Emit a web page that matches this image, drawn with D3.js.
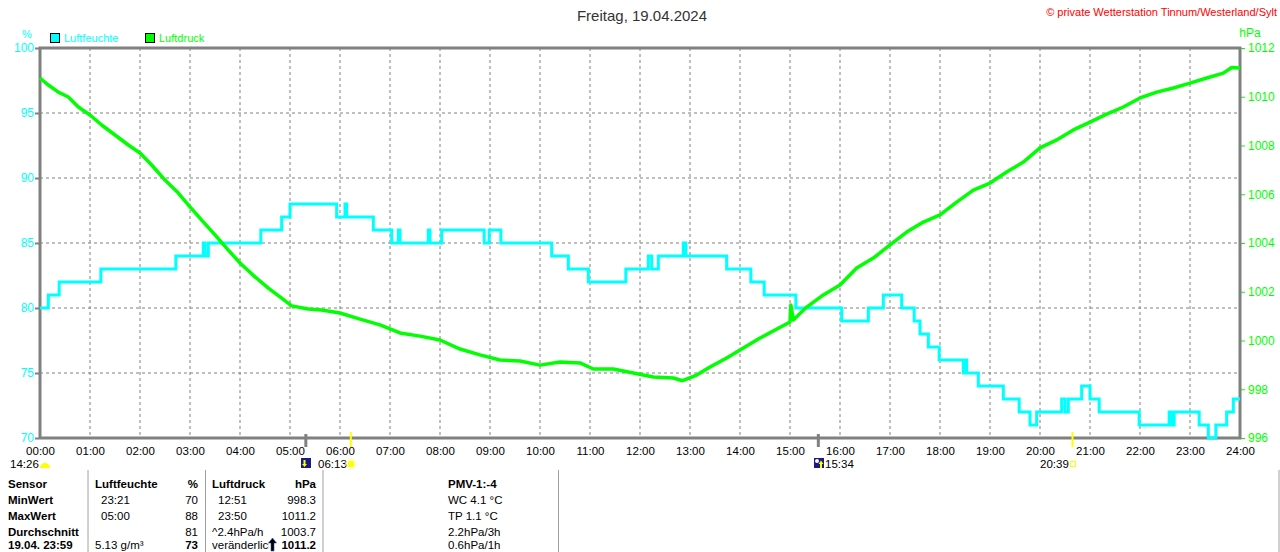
<!DOCTYPE html>
<html>
<head>
    <meta charset="utf-8">
    <title>Luftfeuchte / Luftdruck</title>
    <script src="https://cdn.jsdelivr.net/npm/d3@7"></script>
    <style>
        body { margin: 0; background: #fff; }
        svg { display: block; font-family: "Liberation Sans", Arial, sans-serif; }
    </style>
</head>
<body>
    <svg width="1280" height="552" id="mainsvg"></svg>
    <script>
        // humidity steps (time, %)
        const humTimes = ['00:00','00:10','00:23','01:13','02:43','03:16','03:18','03:22','04:25','04:50','05:00','05:56','06:06','06:08','06:40','07:02','07:10','07:12','07:46','07:48','08:02','08:53','08:59','09:13','10:14','10:34','10:58','11:43','12:10','12:14','12:22','12:52','12:55','13:44','14:13','14:29','15:07','16:02','16:34','16:52','17:14','17:29','17:36','17:46','17:59','18:28','18:30','18:32','18:46','19:16','19:35','19:48','19:56','20:26','20:30','20:34','20:50','21:00','21:11','21:59','22:35','22:38','22:41','23:11','23:22','23:31','23:44','23:52','24:00'];
        const humValues = [80,81,82,83,84,85,84,85,86,87,88,87,88,87,86,85,86,85,86,85,86,85,86,85,84,83,82,83,84,83,84,85,84,83,82,81,80,79,80,81,80,79,78,77,76,75,76,75,74,73,72,71,72,73,72,73,74,73,72,71,72,71,72,71,70,71,72,73,73];

        // pressure (time, hPa)
        const pressTimes = ['00:00','00:10','00:22','00:34','00:46','01:00','01:14','01:30','01:46','02:00','02:14','02:30','02:46','03:00','03:14','03:30','03:46','04:00','04:18','04:34','04:50','05:02','05:22','05:38','06:00','06:24','06:48','07:12','07:36','08:00','08:24','08:48','09:12','09:36','10:00','10:24','10:48','11:04','11:28','11:52','12:16','12:40','12:51','13:08','13:24','13:44','14:00','14:24','15:00','15:01','15:04','15:20','15:40','16:00','16:20','16:40','17:00','17:20','17:40','18:00','18:20','18:40','19:00','19:20','19:40','20:00','20:20','20:40','21:00','21:20','21:40','22:00','22:20','22:40','23:00','23:20','23:40','23:50','24:00'];
        const pressValues = [1010.77,1010.48,1010.19,1009.99,1009.58,1009.25,1008.84,1008.43,1008.02,1007.69,1007.20,1006.58,1006.05,1005.48,1004.94,1004.33,1003.71,1003.18,1002.61,1002.15,1001.74,1001.42,1001.29,1001.25,1001.13,1000.88,1000.64,1000.31,1000.18,1000.02,999.65,999.41,999.20,999.16,998.99,999.12,999.08,998.83,998.83,998.67,998.50,998.46,998.35,998.58,998.91,999.28,999.61,1000.10,1000.76,1001.46,1000.84,1001.37,1001.87,1002.28,1002.97,1003.38,1003.92,1004.45,1004.86,1005.15,1005.68,1006.17,1006.46,1006.91,1007.32,1007.90,1008.23,1008.64,1008.96,1009.29,1009.58,1009.95,1010.19,1010.36,1010.56,1010.77,1010.97,1011.20,1011.18];

        const hourLabels = d3.range(0, 25).map(h => String(h).padStart(2, '0') + ':00');
        const humTicks = [70, 75, 80, 85, 90, 95, 100];
        const pressTicks = [996, 998, 1000, 1002, 1004, 1006, 1008, 1010, 1012];

        // sun / moon events
        const events = [
            { time: '05:19', kind: 'moonset' },
            { time: '06:13', kind: 'sunrise' },
            { time: '15:34', kind: 'moonrise' },
            { time: '20:39', kind: 'sunset' }
        ];

        // table
        const tableRows = [
            ['Sensor', 'Luftfeuchte', '', '%', 'Luftdruck', 'hPa', 'PMV-1:-4'],
            ['MinWert', '23:21', '', '70', '12:51', '998.3', 'WC 4.1 °C'],
            ['MaxWert', '05:00', '', '88', '23:50', '1011.2', 'TP 1.1 °C'],
            ['Durchschnitt', '', '', '81', '^2.4hPa/h', '1003.7', '2.2hPa/3h'],
            ['19.04. 23:59', '5.13 g/m³', '', '73', 'veränderlich', '1011.2', '0.6hPa/1h']
        ];

        const toMin = s => { const [h, m] = s.split(':').map(Number); return h * 60 + m; };
        const hum = humTimes.map((t, i) => ({ t: toMin(t), v: humValues[i] }));
        const press = pressTimes.map((t, i) => ({ t: toMin(t), v: pressValues[i] }));

        const svg = d3.select('svg');
        const CYAN = '#00ffff', GREEN = '#00ff00', GRID = '#808080';
        const pLeft = 40, pRight = 1240, pTop = 48, pBottom = 438;

        const x = d3.scaleLinear().domain([0, 1440]).range([pLeft, pRight]);
        const yH = d3.scaleLinear().domain([70, 100]).range([pBottom, pTop]);
        const yP = d3.scaleLinear().domain([996, 1012]).range([pBottom, pTop]);

        // title & header
        svg.append('text').attr('x', 642).attr('y', 21).attr('text-anchor', 'middle')
            .attr('font-size', 15).attr('fill', '#333').text('Freitag, 19.04.2024');
        svg.append('text').attr('x', 1277).attr('y', 16).attr('text-anchor', 'end')
            .attr('font-size', 11).attr('fill', '#ff0000').text('© private Wetterstation Tinnum/Westerland/Sylt');
        svg.append('text').attr('x', 27).attr('y', 38).attr('text-anchor', 'middle')
            .attr('font-size', 11).attr('fill', CYAN).text('%');
        svg.append('text').attr('x', 1250).attr('y', 37).attr('text-anchor', 'middle')
            .attr('font-size', 12).attr('fill', GREEN).text('hPa');

        const legend = [{ name: 'Luftfeuchte', color: CYAN, x: 50 }, { name: 'Luftdruck', color: GREEN, x: 145 }];
        svg.selectAll('.legRect').data(legend).join('rect').attr('class', 'legRect')
            .attr('x', d => d.x + 0.5).attr('y', 33.5).attr('width', 9).attr('height', 9)
            .attr('fill', d => d.color).attr('stroke', '#000');
        svg.selectAll('.legText').data(legend).join('text').attr('class', 'legText')
            .attr('x', d => d.x + 14).attr('y', 42).attr('font-size', 11)
            .attr('fill', d => d.color).text(d => d.name);

        // grid
        svg.selectAll('.vgrid').data(d3.range(60, 1440, 60)).join('line').attr('class', 'vgrid')
            .attr('x1', d => x(d)).attr('x2', d => x(d)).attr('y1', pTop).attr('y2', pBottom)
            .attr('stroke', GRID).attr('stroke-dasharray', '3,3');
        svg.selectAll('.hgrid').data(humTicks.slice(1, -1)).join('line').attr('class', 'hgrid')
            .attr('x1', pLeft).attr('x2', pRight).attr('y1', d => yH(d)).attr('y2', d => yH(d))
            .attr('stroke', GRID).attr('stroke-dasharray', '3,3');

        // axes
        const axL = svg.append('g').attr('transform', `translate(${pLeft},0)`)
            .call(d3.axisLeft(yH).tickValues(humTicks).tickSize(5).tickPadding(1));
        axL.select('.domain').remove();
        axL.selectAll('line').attr('stroke', GRID).attr('stroke-width', 2);
        axL.selectAll('text').attr('fill', CYAN).attr('font-size', 12).attr('font-family', 'inherit');

        const axR = svg.append('g').attr('transform', `translate(${pRight},0)`)
            .call(d3.axisRight(yP).tickValues(pressTicks).tickSize(5).tickPadding(3).tickFormat(d3.format('d')));
        axR.select('.domain').remove();
        axR.selectAll('line').attr('stroke', GREEN);
        axR.selectAll('text').attr('fill', GREEN).attr('font-size', 12).attr('font-family', 'inherit');

        const axB = svg.append('g').attr('transform', `translate(0,${pBottom})`)
            .call(d3.axisBottom(x).tickValues(d3.range(0, 1441, 60)).tickSize(0).tickPadding(9)
                .tickFormat((d, i) => hourLabels[i]));
        axB.select('.domain').remove();
        axB.selectAll('text').attr('fill', '#000').attr('font-size', 11.5).attr('font-family', 'inherit');

        // frame
        svg.append('path')
            .attr('d', `M${pLeft},${pBottom} V${pTop} H${pRight} V${pBottom} H${pLeft}`)
            .attr('fill', 'none').attr('stroke', GRID).attr('stroke-width', 3);

        // data lines
        svg.append('path').datum(hum)
            .attr('d', d3.line().x(d => x(d.t)).y(d => yH(d.v)).curve(d3.curveStepAfter))
            .attr('fill', 'none').attr('stroke', CYAN).attr('stroke-width', 3);
        svg.append('path').datum(press)
            .attr('d', d3.line().x(d => x(d.t)).y(d => yP(d.v)))
            .attr('fill', 'none').attr('stroke', GREEN).attr('stroke-width', 3.5)
            .attr('stroke-linejoin', 'round');

        // sun & moon markers
        const ev = events.map(e => ({ ...e, t: toMin(e.time) }));
        svg.selectAll('.evMark').data(ev).join('line').attr('class', 'evMark')
            .attr('x1', d => x(d.t)).attr('x2', d => x(d.t))
            .attr('y1', d => d.kind.startsWith('moon') ? 434 : 432).attr('y2', 447)
            .attr('stroke', d => d.kind.startsWith('moon') ? GRID : '#ffff00')
            .attr('stroke-width', d => d.kind.startsWith('moon') ? 3 : 2);

        const g = svg.append('g');
        // day length
        g.append('text').attr('x', 10).attr('y', 468).attr('font-size', 11.5).text('14:26');
        g.append('path').attr('d', 'M40,468 A5,5 0 0 1 50,468 Z').attr('fill', '#ffff00');
        // moonset icon
        g.append('rect').attr('x', 301).attr('y', 458).attr('width', 10).attr('height', 10).attr('fill', '#1a1a80');
        g.append('path').attr('d', 'M303.5,460 V464 H302 L304.5,467 L307,464 H305.5 V460 Z').attr('fill', '#ffff00');
        g.append('text').attr('x', 318).attr('y', 468).attr('font-size', 11.5).text('06:13');
        g.append('circle').attr('cx', 351).attr('cy', 464).attr('r', 3.5).attr('fill', '#ffff00');
        g.append('circle').attr('cx', 351).attr('cy', 464).attr('r', 5.5).attr('fill', 'none')
            .attr('stroke', '#ffff80').attr('stroke-dasharray', '1.5,1.5');
        // moonrise icon
        g.append('rect').attr('x', 814).attr('y', 458).attr('width', 10).attr('height', 10).attr('fill', '#1a1a80');
        g.append('circle').attr('cx', 817).attr('cy', 461).attr('r', 2).attr('fill', '#fff');
        g.append('path').attr('d', 'M820,468 V464 H818.5 L821,460.5 L823.5,464 H822 V468 Z').attr('fill', '#ffff00');
        g.append('text').attr('x', 825).attr('y', 468).attr('font-size', 11.5).text('15:34');
        g.append('text').attr('x', 1040).attr('y', 468).attr('font-size', 11.5).text('20:39');
        g.append('rect').attr('x', 1070.5).attr('y', 461.5).attr('width', 5).attr('height', 5)
            .attr('fill', 'none').attr('stroke', '#ffff00');

        // table
        const sepX = [88, 205.5, 323, 558.5, 1279];
        svg.selectAll('.sep').data(sepX).join('line').attr('class', 'sep')
            .attr('x1', d => d).attr('x2', d => d).attr('y1', 470).attr('y2', 552)
            .attr('stroke', '#a0a0a0').attr('stroke-width', 1);

        const colX = [8, 95, 0, 198, 212, 316, 448];
        const colAnchor = ['start', 'start', 'start', 'end', 'start', 'end', 'start'];
        const rowY = [488, 504, 520, 535.5, 549];
        svg.append('clipPath').attr('id', 'clipTrend').append('rect')
            .attr('x', 205).attr('y', 470).attr('width', 64).attr('height', 90);

        tableRows.forEach((row, r) => {
            row.forEach((cell, c) => {
                if (!cell) return;
                let xx = colX[c];
                if (r > 0 && (c === 1 || c === 4) && /^\d\d:\d\d$/.test(cell)) xx += 6;
                const bold = r === 0 || c === 0 || (r === 4 && (c === 3 || c === 5));
                const t = svg.append('text').attr('x', xx).attr('y', rowY[r])
                    .attr('text-anchor', colAnchor[c]).attr('font-size', 11.5)
                    .attr('font-weight', bold ? 'bold' : 'normal').attr('fill', '#000').text(cell);
                if (r === 4 && c === 4) t.attr('clip-path', 'url(#clipTrend)');
            });
        });
        // trend arrow
        svg.append('path').attr('d', 'M271,551 V543 H268.5 L272.5,538 L276.5,543 H274 V551 Z')
            .attr('fill', '#000').attr('stroke', '#3050c0').attr('stroke-width', 0.6);
    </script>
</body>
</html>
